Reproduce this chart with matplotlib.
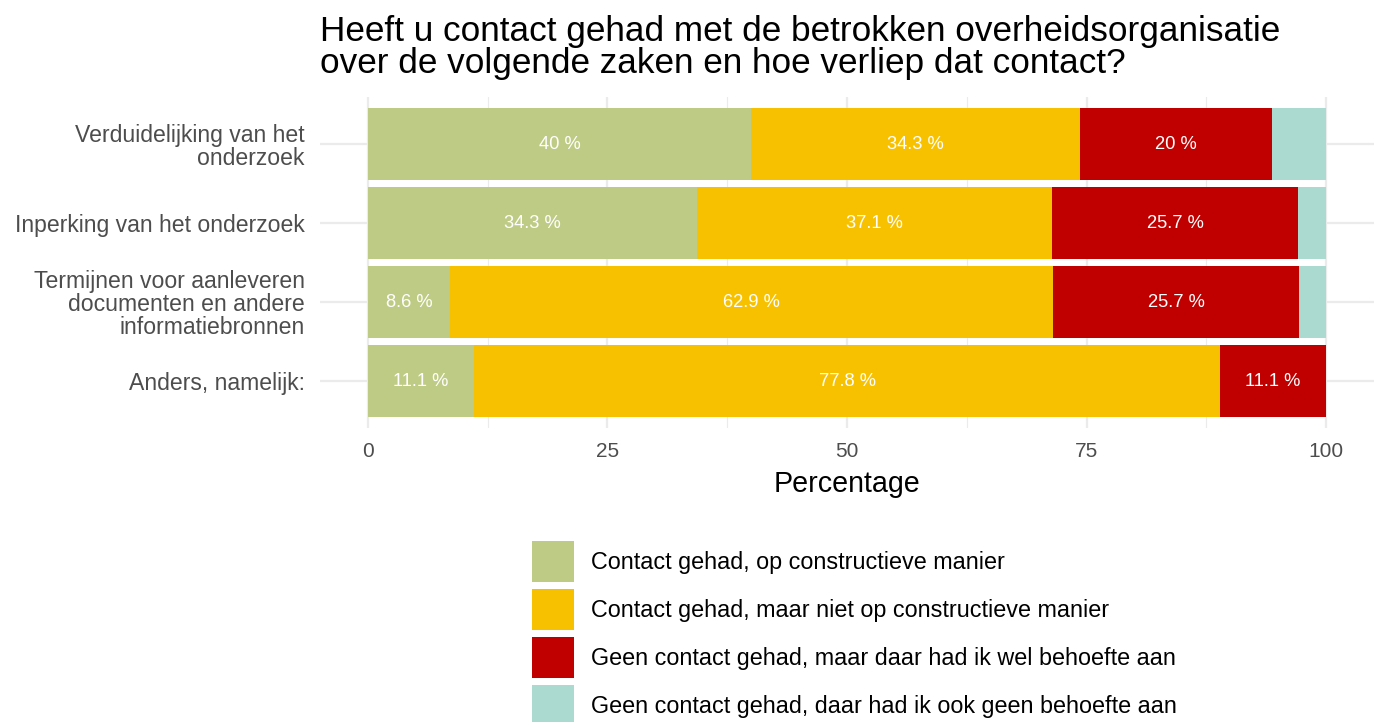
import numpy as np
import matplotlib.pyplot as plt
from matplotlib.patches import Patch

plt.rcParams['font.family'] = ['Liberation Sans', 'DejaVu Sans']

categories = ["Verduidelijking van het\nonderzoek",
              "Inperking van het onderzoek",
              "Termijnen voor aanleveren\ndocumenten en andere\ninformatiebronnen",
              "Anders, namelijk:"]
series = ["Contact gehad, op constructieve manier",
          "Contact gehad, maar niet op constructieve manier",
          "Geen contact gehad, maar daar had ik wel behoefte aan",
          "Geen contact gehad, daar had ik ook geen behoefte aan"]
constructief = [40.0, 34.3, 8.6, 11.1]
niet_constructief = [34.3, 37.1, 62.9, 77.8]
wel_behoefte = [20.0, 25.7, 25.7, 11.1]
geen_behoefte = [5.7, 2.9, 2.8, 0.0]
colors = ["#BECB84", "#F8C100", "#C00000", "#AADAD0"]

values = [constructief, niet_constructief, wel_behoefte, geen_behoefte]

fig = plt.figure(figsize=(13.8, 7.22), dpi=100)
ax = fig.add_axes([0.2319, 0.4066, 0.7638, 0.4596])

y = np.arange(len(categories))[::-1] + 1
left = np.zeros(len(categories))
for vals, col, name in zip(values, colors, series):
    vals = np.array(vals)
    ax.barh(y, vals, left=left, height=0.9, color=col, linewidth=0, label=name, zorder=2)
    for yi, l, v in zip(y, left, vals):
        if v > 6:
            ax.text(l + v / 2, yi, f"{v:g} %", ha='center', va='center',
                    color='white', fontsize=13.2, zorder=3)
    left += vals

ax.set_xlim(-5, 105)
ax.set_ylim(0.4, 4.6)
ax.set_yticks(y)
ax.set_yticklabels(categories, fontsize=16.6, color='#4D4D4D', linespacing=1.0)
ax.set_xticks([0, 25, 50, 75, 100])
ax.set_xticks([12.5, 37.5, 62.5, 87.5], minor=True)
ax.tick_params(axis='x', which='both', length=0, pad=10, labelsize=15, labelcolor='#4D4D4D')
ax.tick_params(axis='y', length=0, pad=11)
ax.grid(which='major', color='#EBEBEB', linewidth=1.6, zorder=0)
ax.grid(which='minor', axis='x', color='#EBEBEB', linewidth=0.8, zorder=0)
ax.set_axisbelow(True)
for s in ax.spines.values():
    s.set_visible(False)
ax.set_xlabel("Percentage", fontsize=20.6, labelpad=6)

fig.text(320 / 1380, (722 - 73) / 722,
         "Heeft u contact gehad met de betrokken overheidsorganisatie\n"
         "over de volgende zaken en hoe verliep dat contact?",
         fontsize=25.3, ha='left', va='baseline', linespacing=0.98)

handles = [Patch(facecolor=c, edgecolor='none') for c in colors]
fig.legend(handles, series, loc='upper left', bbox_to_anchor=(532 / 1380, (722 - 541) / 722),
           frameon=False, fontsize=16.8, handlelength=1.8, handleheight=2.35,
           labelspacing=0.28, handletextpad=0.73, borderpad=0, borderaxespad=0)

fig.savefig("out.png", dpi=100)
